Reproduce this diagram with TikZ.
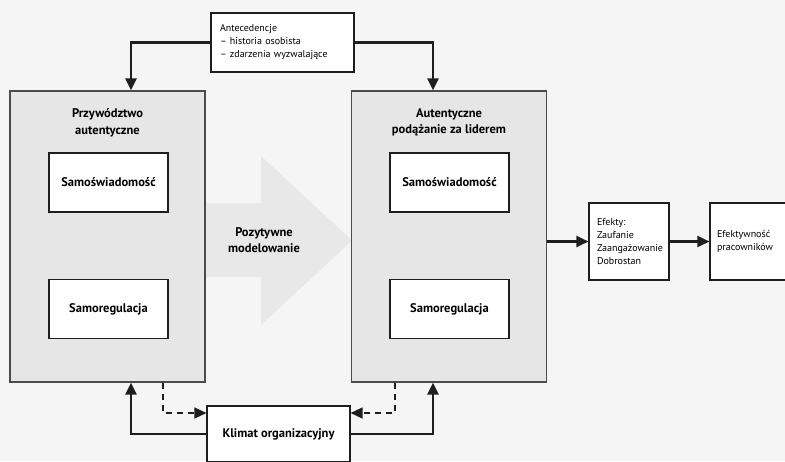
\documentclass[tikz,border=0pt]{standalone}
\usepackage{fontspec}
\setmainfont{PT Sans}
\usepackage{tikz}
\usetikzlibrary{arrows.meta}

\definecolor{bgcol}{HTML}{F5F5F5}
\definecolor{boxcol}{HTML}{E6E6E6}
\definecolor{arrcol}{HTML}{E8E8E8}
\definecolor{linecol}{HTML}{1E1E1E}

\tikzset{
	bigbox/.style={draw=linecol!80, line width=1.3pt, fill=boxcol, minimum width=195pt, minimum height=291pt},
	innerbox/.style={draw=linecol, line width=1.1pt, fill=white, minimum width=119pt, minimum height=59pt, font=\fontsize{12.5}{15}\selectfont\bfseries},
	smallbox/.style={draw=linecol, line width=1.1pt, fill=white, align=left, inner xsep=8pt, font=\fontsize{10}{13}\selectfont},
	title/.style={align=center, font=\fontsize{12.5}{16.5}\selectfont\bfseries},
	conn/.style={linecol, line width=2.4pt, -{Triangle[length=12pt,width=11pt]}},
	dconn/.style={linecol, line width=1.4pt, dash pattern=on 6pt off 5pt, -{Triangle[length=12pt,width=11pt]}}
}

\begin{document}
\begin{tikzpicture}[x=1pt, y=-1pt]
			\useasboundingbox (0,0) rectangle (785,461);
			\fill[bgcol] (0,0) rectangle (785,461);
			% big arrow in the middle
			\fill[arrcol] (205,203) -- (261,203) -- (261,156) -- (352,240.5) -- (261,325) -- (261,277) -- (205,277) -- cycle;
			\node[title] (model) at (264,240) {Pozytywne\\modelowanie};
			% main boxes
			\node[bigbox] (lead) at (107.5,236.5) {};
			\node[bigbox] (follow) at (449,236.5) {};
			\node[title, anchor=north] (leadt) at (107.5,105) {Przywództwo\\autentyczne};
			\node[title, anchor=north] (followt) at (449,105) {Autentyczne\\podążanie za liderem};
			\node[innerbox] (lsa) at (108.5,182.5) {Samoświadomość};
			\node[innerbox] (lsr) at (108.5,309) {Samoregulacja};
			\node[innerbox] (rsa) at (449.5,182.5) {Samoświadomość};
			\node[innerbox] (rsr) at (449.5,309) {Samoregulacja};
			% other boxes
			\node[smallbox, text width=125pt, inner xsep=9pt, minimum height=59pt] (ante) at (282.5,42.5) {Antecedencje\\– historia osobista\\– zdarzenia wyzwalające};
			\node[smallbox, text width=64pt, minimum height=77pt] (effects) at (629,241.5) {Efekty:\\Zaufanie\\Zaangażowanie\\Dobrostan};
			\node[smallbox, text width=64pt, inner xsep=7pt, minimum height=77pt] (perf) at (749,241.5) {Efektywność\\pracowników};
			\node[innerbox, minimum width=143pt, minimum height=56pt] (klimat) at (278.5,434) {Klimat organizacyjny};
			% connectors
			\draw[conn] (ante.west) -| ([xshift=23.5pt]lead.north);
			\draw[conn] (ante.east) -| ([xshift=-16pt]follow.north);
			\draw[conn] (follow.east |- effects.west) -- (effects.west);
			\draw[conn] (effects.east) -- (perf.west);
			\draw[conn] (klimat.west) -| ([xshift=23.5pt]lead.south);
			\draw[conn] (klimat.east) -| ([xshift=-16pt]follow.south);
			\draw[dconn] ([xshift=55.5pt]lead.south) |- ([yshift=21pt]klimat.west);
			\draw[dconn] ([xshift=-54pt]follow.south) |- ([yshift=21pt]klimat.east);
		\end{tikzpicture}
\end{document}
